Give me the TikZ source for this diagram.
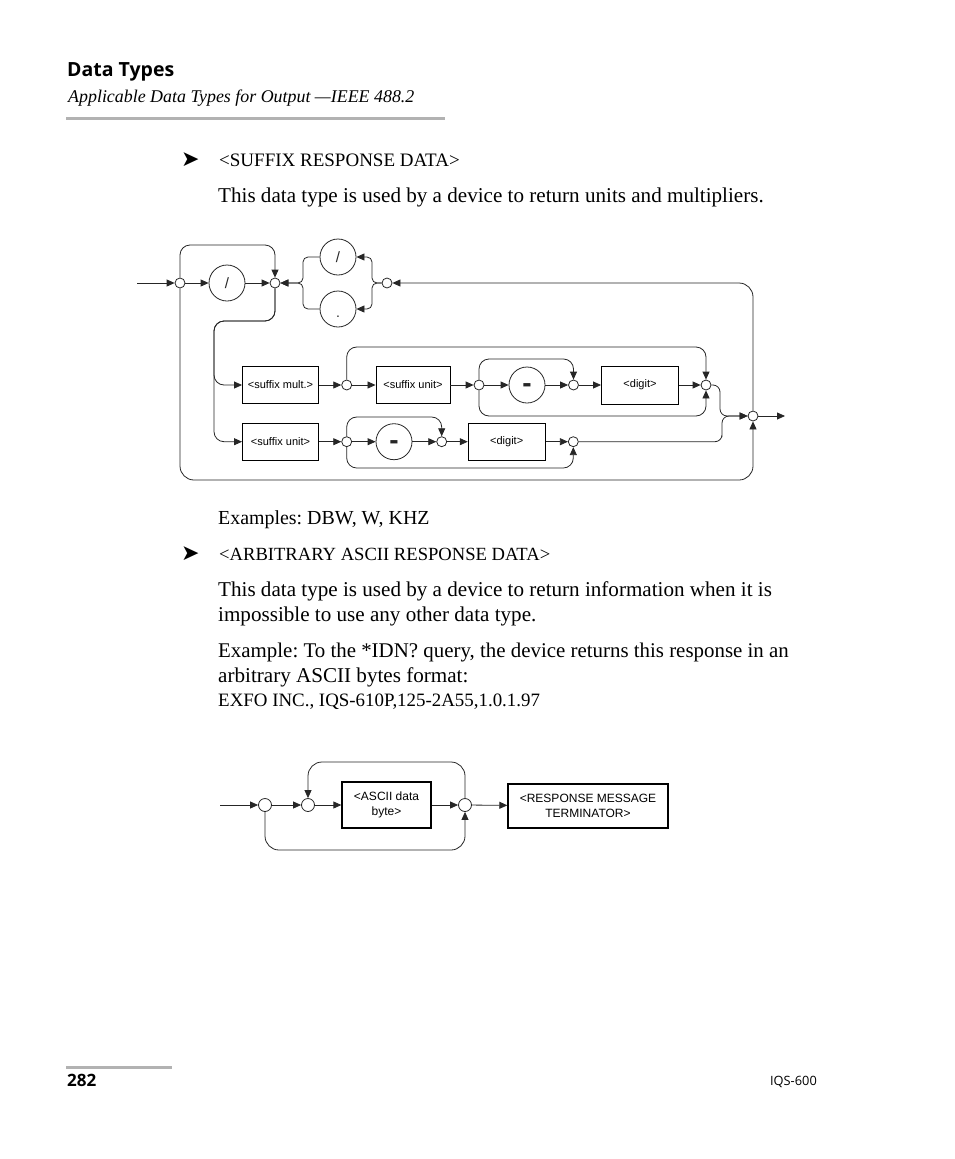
\documentclass[tikz,border=0pt]{standalone}
\usepackage{fontspec}
\setmainfont{Liberation Serif}
\newfontfamily\hdfont{Open Sans}
\newfontfamily\dgfont{Liberation Sans}
\newfontfamily\symfont{DejaVu Sans}
\usetikzlibrary{arrows.meta}
\frenchspacing
\begin{document}
\begin{tikzpicture}[x=1pt,y=-1pt,
  ln/.style={line width=0.8pt, black!85},
  arr/.style={ln, -{Triangle[length=8pt,width=7pt]}},
  rc/.style={rounded corners=10pt},
  rcs/.style={rounded corners=5pt},
  jn/.style={circle, draw, ln, minimum size=10pt, inner sep=0pt},
  jnb/.style={circle, draw, ln, minimum size=13pt, inner sep=0pt},
  bigc/.style={circle, draw, ln, minimum size=36pt, inner sep=0pt},
  slashtxt/.style={font=\dgfont\fontsize{15}{15}\selectfont},
  dashtxt/.style={font=\dgfont\bfseries\fontsize{28}{28}\selectfont, text height=15pt, text depth=0pt},
  bx/.style={draw, line width=0.9pt, inner sep=0pt, font=\dgfont\fontsize{11}{12}\selectfont},
  bxb/.style={draw, line width=1.3pt, inner sep=0pt, align=center, font=\dgfont\fontsize{12}{15}\selectfont},
  body/.style={anchor=base west, inner sep=0pt, font=\fontsize{21.1}{24}\selectfont},
  bul/.style={anchor=base west, inner sep=0pt, font=\symfont\fontsize{22}{22}\selectfont},
  rule/.style={line width=3pt, black!30},
]
\useasboundingbox (0,0) rectangle (954,1159);

% header
\node[anchor=base west, inner sep=0pt, font=\hdfont\bfseries\fontsize{19.5}{20}\selectfont] (hd) at (67,76) {Data Types};
\node[anchor=base west, inner sep=0pt, font=\itshape\fontsize{17.9}{18}\selectfont] (sub) at (68,102) {Applicable Data Types for Output —IEEE 488.2};
\draw[rule] (66,118) -- (445,118);

% texts
\node[bul] (b1) at (181,166) {➤};
\node[body, font=\fontsize{19}{24}\selectfont] (t1) at (219,166) {<SUFFIX RESPONSE DATA>};
\node[body] (t2) at (218,202) {This data type is used by a device to return units and multipliers.};
\node[body, font=\fontsize{19.9}{24}\selectfont] (t3) at (218,524) {Examples: DBW, W, KHZ};
\node[bul] (b2) at (181,560) {➤};
\node[body, font=\fontsize{18.6}{24}\selectfont] (t4) at (219,560) {<ARBITRARY ASCII RESPONSE DATA>};
\node[body] (t5) at (218,596) {This data type is used by a device to return information when it is};
\node[body] (t6) at (218,621) {impossible to use any other data type.};
\node[body, font=\fontsize{20.9}{24}\selectfont] (t7) at (218,657) {Example: To the *IDN? query, the device returns this response in an};
\node[body] (t8) at (218,682) {arbitrary ASCII bytes format:};
\node[body, font=\fontsize{18.9}{24}\selectfont] (t9) at (218,706) {EXFO INC., IQS-610P,125-2A55,1.0.1.97};

% footer
\draw[rule] (66,1067) -- (172,1067);
\node[anchor=base west, inner sep=0pt, font=\hdfont\bfseries\fontsize{17}{17}\selectfont] (pg) at (67,1086) {282};
\node[anchor=base east, inner sep=0pt, font=\hdfont\fontsize{12.8}{14}\selectfont] (doc) at (817,1085) {IQS-600};

% ---------- diagram 1 ----------
\coordinate (in1) at (137,283);
\node[jn] (j1) at (180,283) {};
\node[bigc, slashtxt] (cs) at (227,283) {/};
\node[jn] (j2) at (275,283) {};
\node[bigc, slashtxt] (ts) at (338,257) {/};
\node[bigc, font=\dgfont\fontsize{14}{14}\selectfont, text height=16pt, text depth=0pt] (td) at (338,309) {.};
\node[jn] (j3) at (387,283) {};

\node[bx, minimum width=76pt, minimum height=37pt] (mult) at (280.5,385) {<suffix mult.>};
\node[jn] (j4) at (346.7,385) {};
\node[bx, minimum width=74pt, minimum height=37pt] (unit1) at (413,385) {<suffix unit>};
\node[jn] (j6) at (479,385) {};
\node[bigc, dashtxt] (cm1) at (527,385) {-};
\node[jn] (j7) at (573.5,385) {};
\node[bx, minimum width=77pt, minimum height=38pt] (dig1) at (640,385) {<digit>};
\node[jn] (j5) at (706,385) {};

\node[bx, minimum width=76pt, minimum height=37pt] (unit2) at (280.5,441.7) {<suffix unit>};
\node[jn] (j8) at (346.7,441.7) {};
\node[bigc, dashtxt] (cm2) at (394,441.7) {-};
\node[jn] (j9) at (441.7,441.7) {};
\node[bx, minimum width=77pt, minimum height=37pt] (dig2) at (506.7,441.7) {<digit>};
\node[jn] (j10) at (573.3,441.7) {};

\node[jn] (jf) at (753,416) {};
\coordinate (out1) at (785,416);

\draw[arr] (in1) -- (j1);
\draw[arr] (j1) -- (cs);
\draw[arr] (cs) -- (j2);
\draw[arr, rc] (j1.north) |- (230,245) -| (j2.north);
\draw[arr, rc] (j2.south) |- (240,321) -| (214,360) |- (mult.west);
\draw[arr, rc] (j2.south) |- (240,321) -| (214,420) |- (unit2.west);
\draw[arr, rcs] (j3.west) -- (372,283) |- (ts.east);
\draw[arr, rcs] (j3.west) -- (372,283) |- (td.east);
\draw[arr, rcs] (ts.west) -| (303,270) |- (j2.east);
\draw[arr, rcs] (td.west) -| (303,296) |- (j2.east);
\draw[arr, rounded corners=14pt] (jf.north) |- (j3.east);
\draw[arr, rounded corners=14pt] (j1.south) |- (460,480) -| (jf.south);

\draw[arr] (mult) -- (j4);
\draw[arr] (j4) -- (unit1);
\draw[arr] (unit1) -- (j6);
\draw[arr] (j6) -- (cm1);
\draw[arr] (cm1) -- (j7);
\draw[arr] (j7) -- (dig1);
\draw[arr] (dig1) -- (j5);
\draw[arr, rc] (j4.north) |- (520,347) -| (j5.north);
\draw[arr, rc] (j6.north) |- (520,359) -| (j7.north);
\draw[arr, rc] (j6.south) |- (600,416) -| (j5.south);
\draw[arr, rounded corners=7pt] (j5.east) -| (720,400) |- (jf.west);

\draw[arr] (unit2) -- (j8);
\draw[arr] (j8) -- (cm2);
\draw[arr] (cm2) -- (j9);
\draw[arr] (j9) -- (dig2);
\draw[arr] (dig2) -- (j10);
\draw[arr, rc] (j8.north) |- (400,417) -| (j9.north);
\draw[arr, rc] (j8.south) |- (460,468) -| (j10.south);
\draw[arr, rounded corners=7pt] (j10.east) -| (722,430) |- (jf.west);
\draw[arr] (jf) -- (out1);

% ---------- diagram 2 ----------
\coordinate (in2) at (220,805);
\node[jnb] (ja) at (265,805) {};
\node[jnb] (jb) at (308,805) {};
\node[bxb, minimum width=89pt, minimum height=46pt] (ascii) at (386.5,805) {<ASCII data\\byte>};
\node[jnb] (jc) at (465,805) {};
\node[bxb, minimum width=160pt, minimum height=44pt] (term) at (588,806) {<RESPONSE MESSAGE\\TERMINATOR>};

\draw[arr] (in2) -- (ja);
\draw[arr] (ja) -- (jb);
\draw[arr] (jb) -- (ascii);
\draw[arr] (ascii) -- (jc);
\draw[arr] (jc) -- (term);
\draw[arr, rounded corners=14pt] (jc.north) |- (390,762) -| (jb.north);
\draw[arr, rounded corners=14pt] (ja.south) |- (390,850) -| (jc.south);
\end{tikzpicture}
\end{document}
